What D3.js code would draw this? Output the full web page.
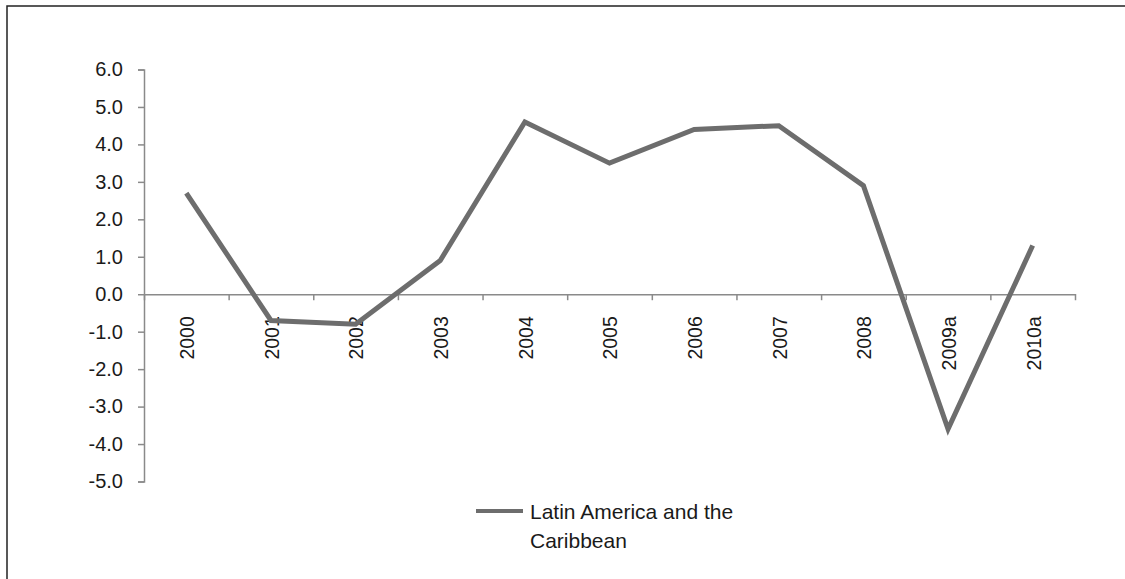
<!DOCTYPE html>
<html>
<head>
<meta charset="utf-8">
<script src="https://cdn.jsdelivr.net/npm/d3@7"></script>
<style>
  html, body { margin: 0; padding: 0; background: #fff; }
  svg text { font-family: "Liberation Sans", Arial, sans-serif; fill: #1a1a1a; }
</style>
</head>
<body>
<svg id="chart" width="1125" height="579"></svg>
<script>
const years = ['2000', '2001', '2002', '2003', '2004', '2005', '2006', '2007', '2008', '2009a', '2010a'];
const growth = [2.7, -0.7, -0.8, 0.9, 4.6, 3.5, 4.4, 4.5, 2.9, -3.6, 1.3];
const yTicks = [6, 5, 4, 3, 2, 1, 0, -1, -2, -3, -4, -5];
const seriesName = ['Latin America and the', 'Caribbean'];

const svg = d3.select('#chart');
const plotLeft = 144, plotRight = 1075, plotTop = 69.5, plotBottom = 481.5;

// outer frame
svg.append('rect')
  .attr('x', 7).attr('y', 6)
  .attr('width', 1200).attr('height', 700)
  .attr('fill', 'none')
  .attr('stroke', '#222')
  .attr('stroke-width', 1.5);

const x = d3.scaleBand().domain(years).range([plotLeft, plotRight]);
const xEdge = d3.scaleLinear().domain([0, years.length]).range([plotLeft, plotRight]);
const y = d3.scaleLinear().domain([-5, 6]).range([plotBottom, plotTop]);

// y axis
const yAxis = svg.append('g')
  .attr('transform', `translate(${plotLeft},0)`)
  .call(d3.axisLeft(y).tickValues(yTicks).tickSize(6).tickPadding(15)
    .tickFormat(d => d.toFixed(1)));
yAxis.selectAll('path, line').attr('stroke', '#8a8a8a').attr('stroke-width', 1.5);
yAxis.selectAll('text').attr('font-size', 20).attr('fill', '#1a1a1a')
  .attr('font-family', '"Liberation Sans", Arial, sans-serif');

// x axis at zero, ticks between categories
const xAxis = svg.append('g')
  .attr('transform', `translate(0,${y(0)})`)
  .call(d3.axisBottom(xEdge).tickValues(d3.range(1, years.length)).tickSize(6)
    .tickSizeOuter(6).tickFormat(''));
xAxis.selectAll('path, line').attr('stroke', '#8a8a8a').attr('stroke-width', 1.5);

svg.append('g').selectAll('text')
  .data(years)
  .join('text')
  .attr('transform', d => `translate(${x(d) + x.bandwidth() / 2 + 1},${y(0) + 22}) rotate(-90)`)
  .attr('text-anchor', 'end')
  .attr('dy', '0.35em')
  .attr('font-size', 19.5)
  .text(d => d);

// series line
const line = d3.line()
  .x((d, i) => x(years[i]) + x.bandwidth() / 2)
  .y(d => y(d))
  .curve(d3.curveLinear);

svg.append('path')
  .attr('d', line(growth))
  .attr('fill', 'none')
  .attr('stroke', '#6d6d6d')
  .attr('stroke-width', 5)
  .attr('stroke-linejoin', 'miter');

// legend
const legend = svg.append('g').attr('transform', 'translate(476,511)');
legend.append('line')
  .attr('x1', 0).attr('x2', 47)
  .attr('y1', 0).attr('y2', 0)
  .attr('stroke', '#6d6d6d')
  .attr('stroke-width', 4);
legend.selectAll('text')
  .data(seriesName)
  .join('text')
  .attr('x', 54)
  .attr('y', (d, i) => 8 + i * 29)
  .attr('font-size', 21)
  .text(d => d);
</script>
</body>
</html>
